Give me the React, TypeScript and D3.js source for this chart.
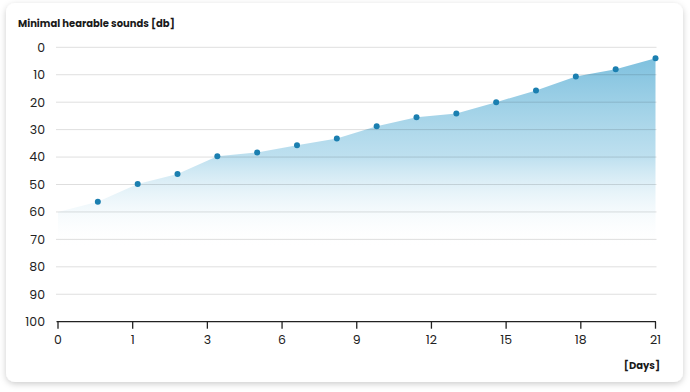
import React from "react";
import * as d3 from "d3";

const title = "Minimal hearable sounds [db]";
const xAxisTitle = "[Days]";
const xTickLabels = ["0", "1", "3", "6", "9", "12", "15", "18", "21"];
const yTicks = [0, 10, 20, 30, 40, 50, 60, 70, 80, 90, 100];
const soundValues = [60, 56.3, 49.8, 46.2, 39.7, 38.3, 35.7, 33.2, 28.8, 25.5, 24.1, 20, 15.7, 10.6, 8, 4];

const W = 690;
const H = 392;
const left = 57;
const right = 655.5;
const top = 47.3;
const bottom = 321.7;
const FONT = "Poppins, Inter, 'Open Sans', sans-serif";

export default function App() {
  const x = d3.scaleLinear().domain([0, soundValues.length - 1]).range([left + 1, right]);
  const xTicks = d3.scalePoint<string>().domain(xTickLabels).range([left + 1, right]);
  const y = d3.scaleLinear().domain([0, 100]).range([top, bottom]);

  const area = d3
    .area<number>()
    .x((_, i) => x(i))
    .y0(y(100))
    .y1((d) => y(d));

  return (
    <div style={{ position: "fixed", left: 0, top: 0, width: W, height: H, background: "#ffffff" }}>
      <svg width={W} height={H} style={{ display: "block" }}>
        <defs>
          <linearGradient id="areaGrad" gradientUnits="userSpaceOnUse" x1="0" y1={top} x2="0" y2={248}>
            <stop offset="0" stopColor="#6fb9da" stopOpacity={0.95} />
            <stop offset="0.55" stopColor="#a9d6ea" stopOpacity={0.75} />
            <stop offset="1" stopColor="#ffffff" stopOpacity={0} />
          </linearGradient>
          <filter id="shadow" x="-5%" y="-5%" width="110%" height="115%">
            <feDropShadow dx="0" dy="2" stdDeviation="3" floodColor="#000" floodOpacity="0.2" />
          </filter>
        </defs>
        <rect x={6} y={3} width={677} height={379} rx={9} fill="#ffffff" filter="url(#shadow)" />
        <text x={18} y={27} fontFamily={FONT} fontWeight={700} fontSize={10} fill="#1a1a1a">
          {title}
        </text>
        <path d={area(soundValues) || ""} fill="url(#areaGrad)" />
        {yTicks.map((t) => (
          <g key={t}>
            {t !== 100 && (
              <line x1={left - 1} x2={right + 1} y1={y(t)} y2={y(t)} stroke="rgba(0,0,0,0.13)" strokeWidth={1} />
            )}
            <text
              x={45}
              y={y(t)}
              dy="0.35em"
              textAnchor="end"
              fontFamily={FONT}
              fontSize={12.5}
              fill="#222"
            >
              {t}
            </text>
          </g>
        ))}
        <line x1={left - 0.5} x2={right + 0.5} y1={bottom} y2={bottom} stroke="#222" strokeWidth={1.3} />
        {xTickLabels.map((l) => (
          <g key={l}>
            <line x1={xTicks(l)!} x2={xTicks(l)!} y1={bottom} y2={bottom + 7} stroke="#222" strokeWidth={1.3} />
            <text
              x={xTicks(l)!}
              y={344}
              textAnchor="middle"
              fontFamily={FONT}
              fontSize={12.5}
              fill="#222"
            >
              {l}
            </text>
          </g>
        ))}
        <text x={660} y={369} textAnchor="end" fontFamily={FONT} fontWeight={700} fontSize={10} fill="#1a1a1a">
          {xAxisTitle}
        </text>
        {soundValues.map((v, i) =>
          i === 0 ? null : <circle key={i} cx={x(i)} cy={y(v)} r={3} fill="#1b7fb0" />
        )}
      </svg>
    </div>
  );
}
